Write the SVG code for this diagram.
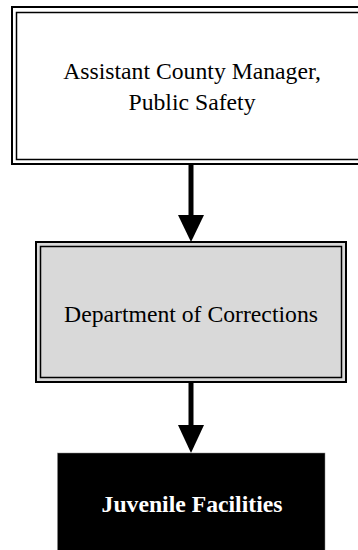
<svg xmlns="http://www.w3.org/2000/svg" width="358" height="550" viewBox="0 0 358 550">
  <style>
    .outer { stroke: #000; stroke-width: 2; }
    .inner { fill: none; stroke: #000; stroke-width: 1.5; }
    .white { fill: #fff; }
    .gray { fill: #d9d9d9; }
    .t { font-family: "Liberation Serif", "Times New Roman", serif; font-size: 23.7px; text-anchor: middle; fill: #000; }
    .tb { font-family: "Liberation Serif", "Times New Roman", serif; font-size: 23.7px; font-weight: bold; text-anchor: middle; fill: #fff; }
    .shaft { stroke: #000; stroke-width: 5; fill: none; }
  </style>
  <rect width="358" height="550" fill="#fff"/>
  <g id="connectors">
    <line class="shaft" x1="191" y1="161" x2="191" y2="217"/>
    <polygon points="178,215 204,215 191,242" fill="#000"/>
    <line class="shaft" x1="191" y1="379" x2="191" y2="427"/>
    <polygon points="178,425 204,425 191,453" fill="#000"/>
  </g>
  <g id="node-assistant">
    <rect x="12" y="7" width="360" height="157" class="outer white"/>
    <rect x="16.5" y="12.5" width="360" height="147" class="inner"/>
    <text class="t" x="192" y="79">Assistant County Manager,</text>
    <text class="t" x="192" y="110">Public Safety</text>
  </g>
  <g id="node-corrections">
    <rect x="36" y="242" width="310" height="140" class="outer gray"/>
    <rect x="40.5" y="246.5" width="301" height="131" class="inner"/>
    <text class="t" x="191" y="322">Department of Corrections</text>
  </g>
  <g id="node-juvenile">
    <rect x="57.5" y="453" width="267.5" height="100" fill="#000" stroke="#888" stroke-width="0.5"/>
    <text class="tb" x="192" y="512">Juvenile Facilities</text>
  </g>
</svg>
